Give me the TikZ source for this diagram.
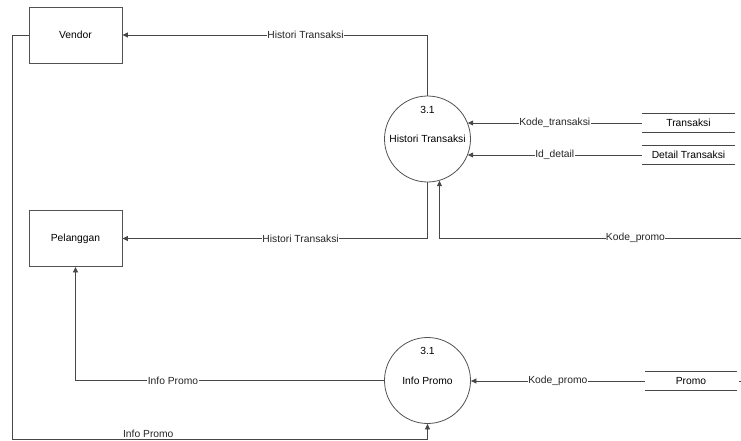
\documentclass[tikz,border=0pt]{standalone}
\usepackage{fontspec}
\setmainfont{Liberation Sans}
\usetikzlibrary{arrows.meta}
\begin{document}
\begin{tikzpicture}[x=1pt,y=-1pt,
  font=\fontsize{10.3}{12}\selectfont,
  line/.style={draw=black!72, line width=0.8pt},
  flow/.style={line, -{Triangle[length=5.5pt,width=5pt]}},
  entity/.style={draw=black!68, line width=0.9pt, minimum width=93pt, minimum height=56pt, inner sep=0pt},
  proc/.style={draw=black!68, circle, minimum size=86pt, inner sep=0pt, line width=0.8pt},
  store/.style={minimum width=93pt, minimum height=18pt, inner sep=0pt},
  lbl/.style={fill=white, inner sep=0.4pt, text=black!85}]
\useasboundingbox (0,0) rectangle (741,441);

% external entities
\node[entity] (vendor) at (75.5,35) {Vendor};
\node[entity] (pel) at (75.5,238.5) {Pelanggan};

% processes
\node[proc] (p1) at (427.5,139) {};
\node (p1num) at (427.5,110) {3.1};
\node (p1name) at (427.5,139) {Histori Transaksi};
\node[proc] (p2) at (427.5,380.5) {};
\node (p2num) at (427.5,351) {3.1};
\node (p2name) at (427.5,380.5) {Info Promo};

% data stores
\node[store] (tr) at (688.5,123) {Transaksi};
\node[store] (dt) at (688.5,155) {Detail Transaksi};
\node[store, minimum width=92pt, minimum height=19pt] (promo) at (691,381) {Promo};
\foreach \s in {tr,dt,promo}{
  \draw[line] (\s.north west) -- (\s.north east);
  \draw[line] (\s.south west) -- (\s.south east);
}

% free ends
\coordinate (kpin) at (741,238);
\coordinate (c1) at (12,439);
\coordinate (stubA) at (739,381);
\coordinate (stubB) at (741,381);

% data flows
\draw[flow] (p1.north) |- (vendor.east)
  node[lbl, pos=0.7] {Histori Transaksi};
\draw[flow] (p1.south) |- (pel.east)
  node[lbl, pos=0.708] {Histori Transaksi};
\draw[flow] (tr.west) -- (tr.west -| p1.22)
  node[lbl, pos=0.5] {Kode\_transaksi};
\draw[flow] (dt.west) -- (dt.west -| p1.-22)
  node[lbl, pos=0.5] {Id\_detail};
\draw[flow] (kpin) -| (p1.-74.5)
  node[lbl, pos=0.175] {Kode\_promo};
\draw[flow] (promo.west) -- (promo.west -| p2.east)
  node[lbl, pos=0.5] {Kode\_promo};
\draw[flow] (p2.west) -| (pel.south)
  node[lbl, pos=0.342] {Info Promo};
\draw[flow] (vendor.west) -| (c1) -| (p2.south)
  node[lbl, pos=0.164, yshift=5pt, inner xsep=3pt] {Info Promo};
\draw[line] (stubA) -- (stubB);
\end{tikzpicture}
\end{document}
